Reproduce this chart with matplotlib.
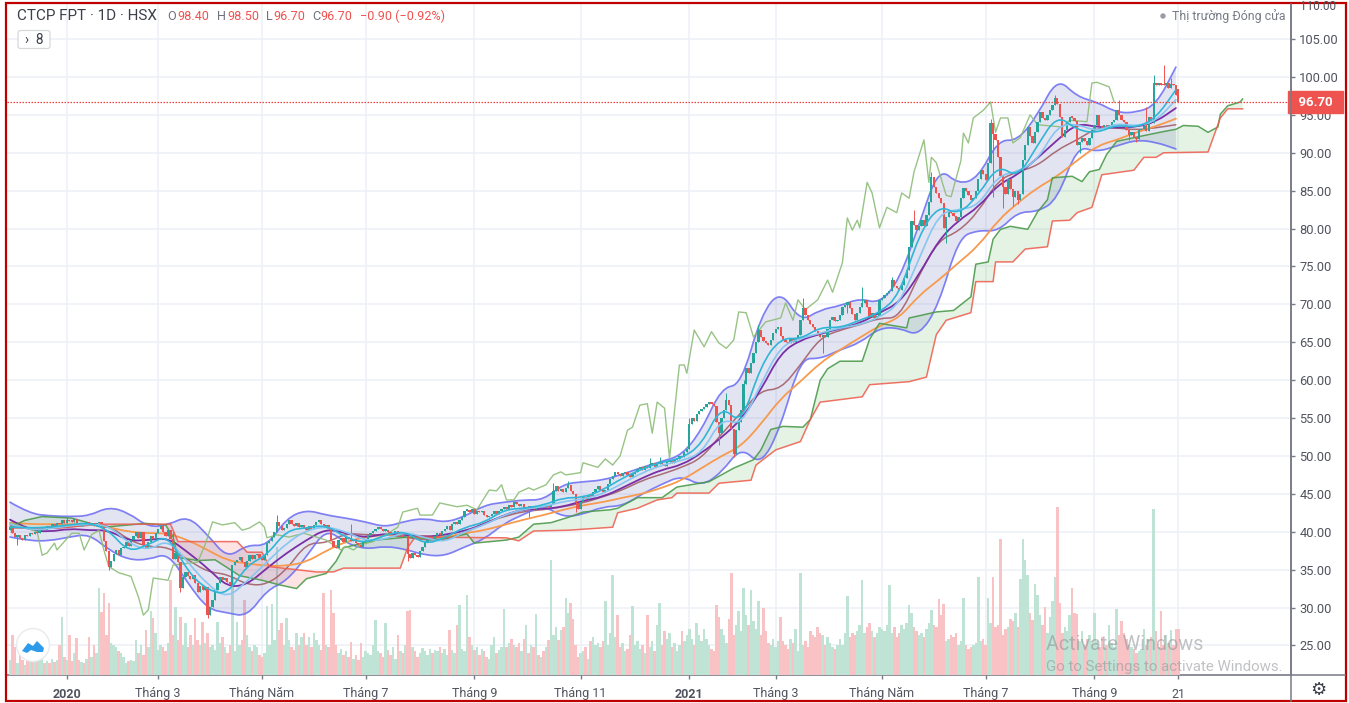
import matplotlib
matplotlib.use("Agg")
import matplotlib.pyplot as plt
from matplotlib.patches import Circle, FancyBboxPatch, Rectangle, Polygon, PathPatch
from matplotlib.path import Path
from matplotlib.transforms import blended_transform_factory
import numpy as np

plt.rcParams['font.family'] = ['Roboto', 'DejaVu Sans']

opens = [
40.2,40.6,39.8,39.3,39.6,39.2,38.9,39.6,39.4,39.9,
39.7,40.0,39.8,40.2,40.5,40.2,40.8,40.5,41.0,40.7,
41.2,41.0,41.5,41.2,41.6,41.4,41.3,41.7,41.2,40.8,
41.0,40.9,41.3,41.0,41.2,40.7,41.1,41.3,40.8,38.8,
37.5,35.3,36.2,37.1,37.6,36.9,37.8,38.0,38.6,38.1,
38.9,39.5,40.0,39.2,40.0,38.2,37.9,38.6,39.5,39.0,
39.9,40.3,40.8,40.0,39.5,40.2,39.0,36.4,37.2,36.0,
32.6,34.0,34.7,34.2,33.8,34.3,33.2,32.0,32.8,32.3,
32.7,29.0,30.1,31.0,32.3,33.2,34.0,33.7,33.9,33.4,
33.0,35.6,36.0,36.3,36.7,36.0,35.4,36.2,36.9,36.4,
36.9,37.0,36.6,36.3,36.9,38.5,38.8,39.3,40.0,41.3,
40.8,40.2,40.5,41.0,41.5,41.0,40.8,41.1,40.6,40.9,
40.5,40.2,40.7,40.4,40.9,41.3,41.6,41.0,40.6,40.9,
40.3,38.8,38.0,37.8,38.9,39.2,38.7,39.3,39.0,38.8,
39.1,38.5,38.2,38.0,38.8,39.0,39.6,39.8,40.1,40.4,
40.6,40.3,40.1,40.2,40.0,39.7,39.8,40.1,39.6,39.9,
39.3,39.5,37.0,36.5,37.2,36.9,36.7,37.5,38.0,38.6,
38.9,39.2,39.0,39.4,39.8,39.6,40.1,40.3,40.7,40.2,
41.0,41.3,41.0,41.6,42.0,42.8,42.9,42.6,43.0,42.4,
42.7,42.6,42.8,42.2,41.9,42.1,42.4,42.7,42.3,42.7,
43.0,43.2,43.0,43.5,43.3,43.9,43.6,43.4,43.7,43.0,
43.3,43.2,43.4,43.0,43.3,43.1,43.4,43.2,43.5,43.3,
43.6,45.4,46.0,45.4,45.7,45.3,45.8,46.2,45.4,45.0,
43.8,43.0,43.9,44.6,44.3,44.9,44.6,45.2,45.7,46.0,
45.5,45.2,45.5,46.3,47.0,47.4,47.9,47.6,47.3,47.7,
47.9,47.5,47.2,47.6,47.9,48.3,48.5,48.2,48.7,48.4,
48.9,49.1,48.6,49.0,49.2,48.9,48.7,49.2,49.4,49.1,
49.5,49.6,50.0,49.8,50.5,50.9,54.2,55.0,54.6,55.5,
55.9,56.2,56.5,56.9,57.1,56.8,56.6,54.5,53.0,55.0,
56.1,57.4,56.7,53.6,50.2,53.4,54.5,56.0,59.5,61.6,
61.0,62.3,63.6,65.0,66.6,65.7,65.2,64.9,64.6,65.3,
66.2,66.7,67.0,65.8,65.3,65.0,64.9,65.4,65.1,65.6,
66.0,68.0,69.5,68.6,68.0,67.4,67.0,66.5,66.0,65.7,
66.0,65.7,66.8,67.9,68.3,67.8,67.9,68.6,69.6,69.9,
70.3,69.5,68.7,67.9,68.8,69.7,70.2,70.6,69.6,68.3,
68.9,68.2,68.5,70.6,70.9,71.2,71.5,71.8,73.2,72.4,
72.2,71.9,72.6,73.5,74.6,77.6,81.0,80.5,79.8,80.4,
81.1,80.3,81.8,83.5,86.8,85.5,84.7,84.0,83.4,80.1,
81.5,82.5,82.0,81.6,81.0,81.5,84.0,85.4,85.0,84.4,
83.8,84.0,85.0,86.5,87.7,87.2,86.4,88.7,93.9,92.5,
91.7,89.5,87.0,85.5,84.5,86.5,85.2,84.2,85.0,83.8,
84.5,89.0,91.0,93.4,92.2,91.3,92.7,94.0,95.4,94.6,
94.3,95.0,95.6,96.3,97.2,96.5,94.7,92.1,93.0,94.0,
94.7,94.6,94.2,91.0,91.4,92.0,91.6,91.0,92.0,93.0,
93.6,95.0,93.5,93.3,93.7,93.3,93.6,94.0,94.3,95.6,
95.0,94.3,94.0,93.0,92.4,92.8,92.1,91.8,93.0,93.1,
93.5,92.9,94.7,93.9,99.2,98.9,99.2,99.0,98.9,99.2,
98.6,99.1,98.9,98.4]

closes = [
40.6,39.8,39.3,39.6,39.2,38.9,39.6,39.4,39.9,39.7,
40.0,39.8,40.2,40.5,40.2,40.8,40.5,41.0,40.7,41.2,
41.0,41.5,41.2,41.6,41.4,41.3,41.7,41.2,40.8,41.0,
40.9,41.3,41.0,41.2,40.7,41.1,41.3,40.8,38.8,37.5,
35.3,36.2,37.1,37.6,36.9,37.8,38.0,38.6,38.1,38.9,
39.5,40.0,39.2,40.0,38.2,37.9,38.6,39.5,39.0,39.9,
40.3,40.8,40.0,39.5,40.2,39.0,36.4,37.2,36.0,32.6,
34.0,34.7,34.2,33.8,34.3,33.2,32.0,32.8,32.3,32.7,
29.0,30.1,31.0,32.3,33.2,34.0,33.7,33.9,33.4,33.0,
35.6,36.0,36.3,36.7,36.0,35.4,36.2,36.9,36.4,36.9,
37.0,36.6,36.3,36.9,38.5,38.8,39.3,40.0,41.3,40.8,
40.2,40.5,41.0,41.5,41.0,40.8,41.1,40.6,40.9,40.5,
40.2,40.7,40.4,40.9,41.3,41.6,41.0,40.6,40.9,40.3,
38.8,38.0,37.8,38.9,39.2,38.7,39.3,39.0,38.8,39.1,
38.5,38.2,38.0,38.8,39.0,39.6,39.8,40.1,40.4,40.6,
40.3,40.1,40.2,40.0,39.7,39.8,40.1,39.6,39.9,39.3,
39.5,37.0,36.5,37.2,36.9,36.7,37.5,38.0,38.6,38.9,
39.2,39.0,39.4,39.8,39.6,40.1,40.3,40.7,40.2,41.0,
41.3,41.0,41.6,42.0,42.8,42.9,42.6,43.0,42.4,42.7,
42.6,42.8,42.2,41.9,42.1,42.4,42.7,42.3,42.7,43.0,
43.2,43.0,43.5,43.3,43.9,43.6,43.4,43.7,43.0,43.3,
43.2,43.4,43.0,43.3,43.1,43.4,43.2,43.5,43.3,43.6,
45.4,46.0,45.4,45.7,45.3,45.8,46.2,45.4,45.0,43.8,
43.0,43.9,44.6,44.3,44.9,44.6,45.2,45.7,46.0,45.5,
45.2,45.5,46.3,47.0,47.4,47.9,47.6,47.3,47.7,47.9,
47.5,47.2,47.6,47.9,48.3,48.5,48.2,48.7,48.4,48.9,
49.1,48.6,49.0,49.2,48.9,48.7,49.2,49.4,49.1,49.5,
49.6,50.0,49.8,50.5,50.9,54.2,55.0,54.6,55.5,55.9,
56.2,56.5,56.9,57.1,56.8,56.6,54.5,53.0,55.0,56.1,
57.4,56.7,53.6,50.2,53.4,54.5,56.0,59.5,61.6,61.0,
62.3,63.6,65.0,66.6,65.7,65.2,64.9,64.6,65.3,66.2,
66.7,67.0,65.8,65.3,65.0,64.9,65.4,65.1,65.6,66.0,
68.0,69.5,68.6,68.0,67.4,67.0,66.5,66.0,65.7,66.0,
65.7,66.8,67.9,68.3,67.8,67.9,68.6,69.6,69.9,70.3,
69.5,68.7,67.9,68.8,69.7,70.2,70.6,69.6,68.3,68.9,
68.2,68.5,70.6,70.9,71.2,71.5,71.8,73.2,72.4,72.2,
71.9,72.6,73.5,74.6,77.6,81.0,80.5,79.8,80.4,81.1,
80.3,81.8,83.5,86.8,85.5,84.7,84.0,83.4,80.1,81.5,
82.5,82.0,81.6,81.0,81.5,84.0,85.4,85.0,84.4,83.8,
84.0,85.0,86.5,87.7,87.2,86.4,88.7,93.9,92.5,91.7,
89.5,87.0,85.5,84.5,86.5,85.2,84.2,85.0,83.8,84.5,
89.0,91.0,93.4,92.2,91.3,92.7,94.0,95.4,94.6,94.3,
95.0,95.6,96.3,97.2,96.5,94.7,92.1,93.0,94.0,94.7,
94.6,94.2,91.0,91.4,92.0,91.6,91.0,92.0,93.0,93.6,
95.0,93.5,93.3,93.7,93.3,93.6,94.0,94.3,95.6,95.0,
94.3,94.0,93.0,92.4,92.8,92.1,91.8,93.0,93.1,93.5,
92.9,94.7,93.9,99.2,98.9,99.2,99.0,98.9,99.2,98.6,
99.1,98.9,97.6,96.7]

# notable wicks: bar -> extreme price
wick_highs = {23:42.0, 66:40.0, 108:42.2, 138:41.0, 220:46.4, 226:46.7, 259:49.7, 263:49.9,
              275:55.0, 290:58.3, 297:60.0, 303:67.3, 321:70.9, 345:72.3, 357:73.6, 366:82.5,
              373:87.4, 397:94.5, 423:97.6, 449:97.0, 460:96.0, 463:100.2, 467:101.6, 470:99.9}
wick_lows = {3:38.3, 40:34.9, 69:32.0, 80:28.6, 161:36.1, 210:42.0, 229:42.6, 287:51.5, 293:49.8,
             329:63.6, 339:68.8, 379:78.1, 398:84.2, 402:82.7, 406:83.0, 408:83.2, 433:90.0,
             453:91.7, 456:91.4}

volumes = [
15,40,28,12,20,15,10,18,14,16,
13,18,15,16,12,14,12,16,13,15,
30,58,18,15,40,14,22,37,15,13,
12,16,38,18,30,22,87,63,82,40,
72,32,30,28,24,22,18,12,14,15,
14,35,22,30,20,45,28,64,57,42,
25,30,28,24,32,95,40,68,35,58,
30,52,28,40,30,57,35,30,53,32,
42,28,30,25,53,32,38,28,22,30,
98,24,53,30,35,75,40,28,24,30,
28,20,18,22,69,30,71,35,128,45,
52,30,57,35,28,25,42,30,38,42,
30,38,28,42,35,30,25,82,30,28,
85,62,30,22,26,20,24,18,33,16,
20,15,32,18,24,22,20,30,55,24,
22,18,52,25,20,28,16,40,24,22,
30,64,65,28,24,18,22,27,24,20,
26,22,25,24,28,22,26,20,45,25,
22,50,70,26,24,80,38,30,25,28,
20,26,24,18,16,30,38,22,25,28,
66,28,32,36,30,28,32,24,36,50,
22,30,28,61,20,18,24,28,35,115,
40,48,35,45,48,77,62,72,56,30,
18,22,24,28,16,34,38,30,32,28,
34,74,30,42,100,38,60,28,32,24,
26,40,69,30,34,26,30,22,60,28,
34,24,50,72,30,44,36,42,28,32,
24,30,44,34,40,46,36,30,52,40,
34,46,36,30,26,24,70,58,46,40,
32,56,102,40,50,64,44,87,60,50,
85,54,46,74,40,67,44,32,30,36,
28,34,58,34,30,26,36,32,46,24,
102,30,34,28,44,40,38,48,42,40,
30,38,32,28,26,30,36,30,42,79,
38,42,40,44,50,95,42,48,52,44,
38,42,48,46,44,50,90,42,48,38,
42,50,46,52,70,62,48,44,40,42,
38,46,52,65,50,48,76,60,71,34,
36,40,38,42,30,34,77,30,26,28,
30,32,98,34,36,30,77,52,98,48,
50,136,40,46,48,56,54,62,48,96,
136,115,100,62,55,91,80,60,50,68,
42,58,74,98,168,72,42,48,44,60,
87,62,61,34,44,30,36,40,34,62,
34,28,38,28,30,50,32,28,66,40,
54,42,36,30,28,26,22,24,26,46,
30,36,38,166,44,28,64,30,40,32,
45,30,46,46]

band_bars = list(range(0, 480, 8))
bb_upper = [
43.9,42.4,42.1,42.0,42.1,43.3,42.5,40.6,40.9,42.1,
39.6,36.5,38.3,38.1,41.8,42.9,42.2,41.8,41.3,40.6,
41.4,41.8,41.2,42.0,43.5,43.9,44.2,44.2,46.3,46.6,
46.8,47.6,48.5,49.3,50.1,53.4,59.0,59.4,68.6,71.9,
67.7,69.3,69.8,70.8,70.1,73.2,80.5,88.1,85.8,86.7,
91.7,91.6,95.0,99.9,97.4,96.7,95.3,95.3,96.3,101.3]
bb_lower = [
39.3,38.8,38.8,39.3,39.7,37.6,36.3,36.3,37.2,33.2,
29.8,29.3,28.8,32.3,33.5,36.7,40.4,38.5,37.7,38.1,
37.7,36.9,36.8,38.0,39.0,41.1,42.3,43.5,41.9,42.3,
43.3,43.4,45.0,46.3,47.4,46.0,47.8,51.2,48.7,53.8,
62.9,62.8,64.0,64.9,66.9,66.9,65.8,69.9,78.8,79.8,
79.6,82.2,82.2,83.8,90.9,90.1,90.9,91.7,91.4,90.5]
ma_mid = [
41.6,40.2,40.0,40.4,40.2,40.2,38.8,38.9,39.2,37.3,
35.2,32.7,33.0,35.2,37.2,38.9,40.4,39.8,39.2,39.8,
39.6,39.3,39.6,40.1,41.0,42.2,43.0,43.0,43.3,44.1,
44.6,45.8,47.1,48.2,48.8,50.4,52.4,54.8,58.7,63.6,
65.3,66.1,66.8,67.5,68.9,70.2,73.9,78.5,81.1,82.8,
85.8,87.1,89.3,91.7,93.9,93.4,93.3,93.4,94.1,95.9]
ma_long = [
41.2,41.0,41.0,41.0,41.0,40.6,40.0,39.8,39.8,38.9,
37.6,36.2,35.8,35.5,35.5,36.0,37.5,38.7,39.3,39.6,
39.6,39.4,39.3,39.8,40.2,40.9,41.6,42.2,42.9,43.5,
43.9,44.5,45.0,45.8,46.8,48.4,50.0,51.3,54.2,57.6,
59.8,62.3,64.0,65.6,67.2,68.2,71.2,73.2,75.5,77.7,
81.1,83.4,85.4,86.9,89.0,90.9,91.7,92.7,93.5,94.5]
ma_fast = [
40.6,40.5,40.6,40.9,41.2,40.2,37.3,38.3,39.6,34.7,
32.3,31.7,35.6,36.9,40.2,40.5,40.9,39.2,38.5,39.6,
40.1,38.3,39.2,40.6,41.2,42.9,43.1,43.5,44.5,44.5,
45.5,47.1,48.3,49.2,49.7,51.5,56.7,54.1,62.0,65.6,
65.4,67.0,66.9,67.9,68.9,71.2,79.2,83.1,81.8,84.4,
88.4,86.7,91.0,95.0,93.0,92.6,93.7,93.3,94.6,98.3]
ma_slow = [
41.0,40.2,40.4,40.8,41.0,40.8,38.5,37.5,39.0,36.0,
33.0,31.2,33.5,36.0,38.5,40.2,40.7,40.0,38.8,39.0,
40.0,39.2,38.6,40.0,40.9,42.2,43.0,43.3,44.0,44.3,
45.0,46.4,47.8,48.8,49.4,50.3,55.0,54.0,59.5,64.5,
65.5,66.2,66.9,67.3,68.3,70.0,76.0,82.0,82.5,83.0,
87.0,87.5,89.0,93.6,93.8,92.8,93.9,93.5,94.2,97.0]
kijun = [
40.9,40.2,40.5,40.6,40.9,40.9,38.9,38.0,38.0,36.3,
34.7,34.4,33.0,33.0,35.0,38.5,38.5,39.8,39.6,39.6,
39.3,38.9,38.9,39.8,41.2,42.0,42.7,42.9,43.3,43.8,
44.6,45.5,46.8,47.6,48.5,49.7,52.9,55.7,58.7,58.8,
62.0,65.6,66.6,67.3,68.2,68.2,73.9,78.5,79.6,82.2,
86.4,87.5,88.3,90.4,91.7,93.3,93.3,93.0,93.3,93.7]

span_b_bars = [0,20,36,65,68,92,96,102,105,124,131,135,158,161,164,201,206,212,226,244,246,254,262,268,270,283,287,300,302,310,320,324,328,345,348,364,371,375,379,389,391,398,399,406,411,420,422,429,432,438,442,455,459,464,467,485,490,493,499]
span_b = [40.5,40.5,41.0,41.0,38.7,38.7,37.3,37.3,35.4,34.7,34.7,35.2,35.2,37.9,39.3,39.2,38.8,40.1,40.2,40.6,42.5,43.1,44.2,44.5,45.1,45.1,46.4,46.8,48.8,50.8,51.9,54.8,57.1,57.8,59.4,59.8,60.4,66.0,67.9,68.9,73.0,73.0,75.6,75.6,77.3,77.6,81.0,81.1,82.1,82.8,87.1,87.7,89.4,89.4,90.0,90.1,94.6,95.8,95.8]
span_a_bars = [0,6,13,25,38,55,63,66,68,76,83,93,102,109,116,120,128,132,135,139,148,161,174,185,188,201,206,212,219,226,232,243,246,254,264,270,283,293,301,304,308,313,321,324,328,331,336,345,348,352,363,364,375,382,389,391,396,398,401,405,412,416,420,422,430,434,437,441,444,448,455,467,472,475,481,485,489,490,493,498,499]
span_a = [40.6,41.5,42.0,41.8,40.6,41.1,40.9,39.3,36.6,36.2,36.3,34.2,33.6,33.0,32.5,33.8,34.5,36.1,37.9,38.2,38.9,39.3,39.0,39.7,38.5,38.9,39.3,41.0,41.2,41.9,42.6,42.9,43.1,44.5,44.5,45.9,46.6,48.4,49.5,50.8,53.5,53.9,53.8,54.8,60.0,61.5,62.5,62.5,65.4,67.5,66.9,68.2,69.0,69.2,71.0,75.3,75.6,78.6,79.9,80.3,79.9,82.2,83.8,86.7,86.9,86.2,87.5,87.8,89.8,91.5,92.0,92.8,93.1,93.6,93.5,92.7,93.4,95.1,96.2,96.7,97.1]
lag_bars = [0,11,13,15,18,19,25,28,30,33,36,38,40,44,49,52,54,56,58,64,66,76,79,82,86,91,94,97,101,103,104,108,113,119,128,134,136,139,142,147,153,157,159,165,166,171,174,181,185,189,194,197,199,201,204,206,210,212,217,220,223,225,231,232,235,238,241,244,247,250,252,255,258,260,262,265,267,271,273,274,277,281,284,287,290,293,295,298,301,306,312,314,317,319,322,327,331,333,337,339,341,343,344,347,349,352,355,359,361,364,366,370,372,373,375,379,381,385,386,388,390,394,397,399,401,404,406,409,413,416,426,429,436,438,440,445,447]
lag_span = [41.2,40.0,36.9,37.2,38.5,37.6,39.8,39.8,37.6,39.6,40.2,37.6,35.4,34.6,34.1,31.4,29.0,29.7,33.9,33.6,35.6,36.0,38.3,41.3,40.9,41.2,40.2,40.5,41.3,40.6,39.2,39.6,39.3,39.8,38.9,37.6,38.1,37.6,38.3,38.7,39.8,40.6,42.6,43.1,42.2,42.2,43.8,43.3,43.5,42.9,45.5,45.4,46.2,44.2,44.2,45.2,45.8,45.5,46.2,47.5,47.9,47.5,47.8,49.1,48.8,48.5,49.6,48.8,50.0,53.4,53.8,56.7,56.9,53.0,57.1,56.3,49.7,62.0,62.0,60.9,66.6,64.4,66.4,64.9,64.2,65.3,69.0,68.9,65.7,67.7,68.2,70.2,67.9,70.6,69.3,70.6,73.2,71.6,75.5,81.4,79.8,81.1,80.1,86.1,84.7,80.1,82.8,82.1,84.7,84.0,87.5,91.7,86.1,89.4,88.7,84.4,84.2,89.0,92.6,91.3,94.6,95.6,96.7,92.7,94.6,94.6,91.3,92.0,95.0,93.7,93.4,94.3,94.1,99.2,99.3,98.7,96.7]

price_ticks = list(range(25, 110, 5))
month_bars = [23, 60, 102, 144, 188, 231, 275, 310, 353, 395, 439, 473]
month_labels = ['2020', 'Tháng 3', 'Tháng Năm', 'Tháng 7', 'Tháng 9', 'Tháng 11', '2021', 'Tháng 3', 'Tháng Năm', 'Tháng 7', 'Tháng 9', '21']
last_price = 96.7

W, H = 1349, 703
GRID = '#ecf1f6'; TXT = '#50535e'; UP = '#26a69a'; DOWN = '#ef5350'; AX = '#787b86'
fig = plt.figure(figsize=(W/100, H/100), dpi=100, facecolor='white')
X0, X1, Y0, Y1 = 7, 1291, 4, 675
rect = [X0/W, 1-Y1/H, (X1-X0)/W, (Y1-Y0)/H]
xlim = (-1.21, 518.6)
ylim = (21.1, 109.63)


def curve_verts(xs, ys):
    """Rounded drawing of a polyline: each read point acts as a quadratic control point."""
    v = [(xs[0], ys[0])]
    codes = [Path.MOVETO]
    for k in range(1, len(xs) - 1):
        v.append((xs[k], ys[k]))
        v.append(((xs[k] + xs[k + 1]) / 2, (ys[k] + ys[k + 1]) / 2))
        codes += [Path.CURVE3, Path.CURVE3]
    v.append((xs[-1], ys[-1]))
    codes.append(Path.LINETO)
    return v, codes


def draw_curve(axes, xs, ys, **kw):
    v, codes = curve_verts(list(xs), list(ys))
    axes.add_patch(PathPatch(Path(v, codes), fill=False, capstyle='round', **kw))


ax_bg = fig.add_axes(rect, zorder=1)
ax_bg.set_xlim(xlim); ax_bg.set_ylim(ylim)
ax_bg.yaxis.tick_right()
ax_bg.set_yticks(price_ticks, [f'{p:.2f}' for p in price_ticks], fontsize=9.3, color=TXT)
ax_bg.set_xticks(month_bars, month_labels, fontsize=9, color=TXT)
for lab, t in zip(ax_bg.get_xticklabels(), month_labels):
    if t in ('2020', '2021'):
        lab.set_fontweight('bold')
ax_bg.tick_params(axis='y', length=3, width=1, color=AX, pad=3)
ax_bg.tick_params(axis='x', length=3, width=1, color=AX, pad=6)
ax_bg.grid(True, color=GRID, lw=1.1)
ax_bg.set_axisbelow(True)
for s in ('top', 'left'):
    ax_bg.spines[s].set_visible(False)
for s in ('right', 'bottom'):
    ax_bg.spines[s].set_color(AX)
    ax_bg.spines[s].set_linewidth(1.2)

bars = np.arange(len(closes))
o = np.array(opens); c = np.array(closes)
is_up = c >= o

ax_vol = fig.add_axes(rect, zorder=2)
ax_vol.patch.set_visible(False); ax_vol.axis('off')
ax_vol.set_xlim(xlim); ax_vol.set_ylim(0, Y1-Y0)
ax_vol.bar(bars, volumes, width=1.0, color=np.where(is_up, '#bfe3d5', '#f9c3c6'), lw=0)

ax = fig.add_axes(rect, zorder=3)
ax.patch.set_visible(False); ax.axis('off')
ax.set_xlim(xlim); ax.set_ylim(ylim)

# cloud
cloud_x = np.arange(0, 500)
sa = np.interp(cloud_x, span_a_bars, span_a)
sb = np.interp(cloud_x, span_b_bars, span_b)
ax.fill_between(cloud_x, sa, sb, where=sa >= sb, color='#4caf50', alpha=0.15, lw=0, interpolate=True)
ax.fill_between(cloud_x, sa, sb, where=sa < sb, color='#f44336', alpha=0.15, lw=0, interpolate=True)

# bollinger fill: upper edge forward, lower edge back
uv, uc = curve_verts(band_bars, bb_upper)
lv, lc = curve_verts(band_bars[::-1], bb_lower[::-1])
lc[0] = Path.LINETO
ax.add_patch(PathPatch(Path(uv + lv + [uv[0]], uc + lc + [Path.CLOSEPOLY]), fc='#5c5fb5', alpha=0.17, lw=0))

ax.plot(span_a_bars, span_a, color='#4c9a4c', lw=1.1, alpha=0.9)
ax.plot(span_b_bars, span_b, color='#ee5a4a', lw=1.1, alpha=0.85)
ax.plot(lag_bars, lag_span, color='#8dbd78', lw=1.0, alpha=0.9)
draw_curve(ax, band_bars, kijun, ec='#a25f68', lw=1.1, alpha=0.9)
draw_curve(ax, band_bars, bb_upper, ec='#6a6cf2', lw=1.25, alpha=0.85)
draw_curve(ax, band_bars, bb_lower, ec='#6a6cf2', lw=1.25, alpha=0.85)
draw_curve(ax, band_bars, ma_long, ec='#f79a4d', lw=1.3)
draw_curve(ax, band_bars, ma_mid, ec='#7a2fa5', lw=1.3)

# candles
hi = np.maximum(o, c); lo = np.minimum(o, c)
for b, v in wick_highs.items():
    hi[b] = v
for b, v in wick_lows.items():
    lo[b] = v
ccol = np.where(is_up, UP, DOWN)
ax.vlines(bars, lo, hi, colors=ccol, lw=0.7, zorder=4)
ax.bar(bars, np.maximum(np.abs(c-o), 0.2), bottom=np.minimum(o, c), width=0.92, color=ccol, lw=0, zorder=5)

draw_curve(ax, band_bars, ma_slow, ec='#86c6f0', lw=1.2, zorder=6)
draw_curve(ax, band_bars, ma_fast, ec='#2fb6d6', lw=1.2, zorder=6)

ax.axhline(last_price, color='#f0413c', lw=0.9, ls=(0, (1.2, 1.2)), zorder=7)
tr = blended_transform_factory(ax.transAxes, ax.transData)
ax.text(1.0008, last_price, f'  {last_price:.2f}  ', transform=tr, color='white', fontsize=9.5, fontweight='bold',
        va='center', ha='left', clip_on=False, zorder=9,
        bbox=dict(boxstyle='square,pad=0.32', fc=DOWN, ec=DOWN))

# overlay in figure pixels
ov = fig.add_axes([0, 0, 1, 1], zorder=5)
ov.patch.set_visible(False); ov.axis('off')
ov.set_xlim(0, W); ov.set_ylim(H, 0)
ov.add_patch(Rectangle((5.5, 3), 1340, 698, fill=False, ec='#c00000', lw=1.6))
ov.plot([1291, 1291], [4, 701], color=AX, lw=1.1)
ov.plot([1291, 1345], [675, 675], color=AX, lw=1.1)
ov.text(1300, 7, '110.00', fontsize=8.5, color=TXT, va='center')

ov.text(17, 16.5, 'CTCP FPT · 1D · HSX', fontsize=11, color='#3c3f4a', va='center')
for xp, s, col in [(167, 'O', '#70737e'), (177, '98.40', DOWN), (217, 'H', '#70737e'), (227, '98.50', DOWN),
                   (266, 'L', '#70737e'), (273, '96.70', DOWN), (312, 'C', '#70737e'), (320, '96.70', DOWN),
                   (360, '−0.90 (−0.92%)', DOWN)]:
    ov.text(xp, 16.5, s, fontsize=9.1, color=col, va='center')
ov.add_patch(FancyBboxPatch((18, 30.5), 32, 18, boxstyle='round,pad=0,rounding_size=2.5', fc='white', ec='#d6d8dc', lw=0.9))
ov.text(34, 39.5, '›  8', fontsize=9.8, color='#3c3f4a', ha='center', va='center')
ov.add_patch(Circle((1163, 16), 2.7, fc='#9a9ca5', ec='none'))
ov.text(1172, 16.5, 'Thị trường Đóng cửa', fontsize=8.9, color='#787b86', va='center')

ov.add_patch(Circle((33, 645), 16.5, fc='white', ec='#e8eaee', lw=1))
ov.add_patch(Polygon([(22, 651), (28, 643), (33, 646), (37, 641), (44, 648), (43, 652), (37, 652), (31, 650), (27, 653)],
                     closed=True, fc='#2e9bea', ec='none'))

ov.text(1046, 645, 'Activate Windows', fontsize=14.2, color='#8f9094', alpha=0.55, va='center')
ov.text(1046, 667, 'Go to Settings to activate Windows.', fontsize=10.8, color='#8f9094', alpha=0.55, va='center')
ov.text(1318, 690, '\u2699', fontsize=13, color='#3c3f4a', ha='center', va='center', family='DejaVu Sans')

fig.savefig('out.png', dpi=100)
